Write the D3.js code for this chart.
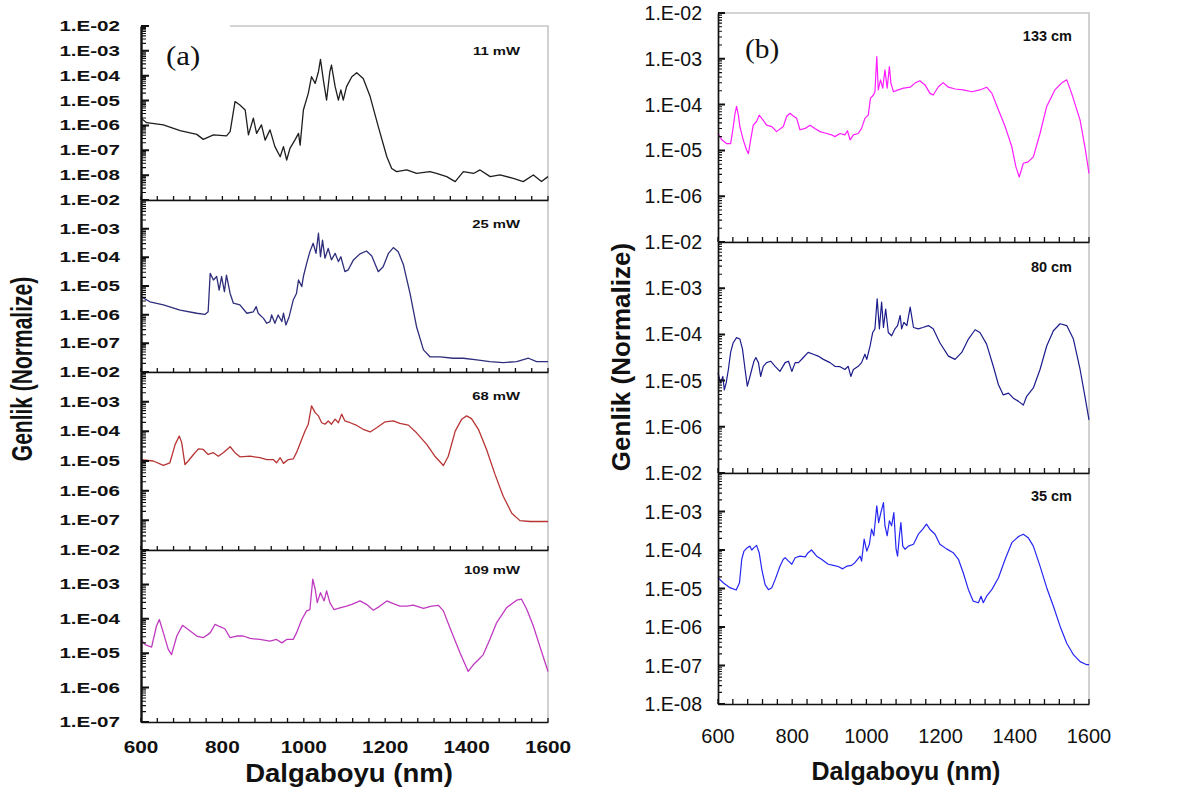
<!DOCTYPE html>
<html><head><meta charset="utf-8">
<script src="https://cdn.jsdelivr.net/npm/d3@7"></script>
<style>
body{margin:0;background:#fff}
svg{display:block}
text{font-family:Arial,"Liberation Sans",sans-serif;fill:#111}
</style>
</head><body>
<svg id="c" width="1182" height="794"></svg>
<script>
// ---------- DATA ----------
const xTickMarks = [600,640,680,720,760,800,840,880,920,960,1000,1040,1080,1120,1160,1200,1240,1280,1320,1360,1400,1440,1480,1520,1560,1600];
const xTickLabels = [600,800,1000,1200,1400,1600];
const labelsA = ["11 mW","25 mW","68 mW","109 mW"];
const labelsB = ["133 cm","80 cm","35 cm"];
const yTitle = "Genlik (Normalize)";
const xTitle = "Dalgaboyu (nm)";

// (a) 11 mW
const lamA1 = [600,614,655,696,737,753,778,810,819,831,843,856,864,876,884,896,905,917,929,942,950,958,966,978,987,991,999,1011,1019,1028,1036,1041,1048,1056,1064,1068,1077,1085,1091,1097,1105,1118,1130,1146,1163,1183,1204,1216,1228,1253,1277,1310,1326,1351,1372,1392,1417,1433,1458,1482,1515,1539,1564,1584,1600];
const ampA1 = [1.95e-6,1.29e-6,1.05e-6,6.17e-7,4.37e-7,2.75e-7,4.17e-7,3.80e-7,5.62e-7,9.12e-6,6.61e-6,4.17e-6,4.17e-7,1.95e-6,4.79e-7,1.05e-6,2.57e-7,6.61e-7,1.41e-7,5.50e-8,1.41e-7,4.07e-8,1.20e-7,2.57e-7,4.79e-7,1.62e-7,4.17e-6,1.95e-5,9.12e-5,4.90e-5,1.45e-4,4.57e-4,6.76e-5,1.05e-5,1.45e-4,2.69e-4,3.63e-5,1.05e-5,2.69e-5,1.05e-5,3.63e-5,9.12e-5,1.32e-4,7.76e-5,1.45e-5,8.91e-7,5.50e-8,1.86e-8,1.38e-8,1.62e-8,1.17e-8,1.38e-8,1.17e-8,8.71e-9,5.50e-9,1.38e-8,1.17e-8,1.62e-8,8.71e-9,1.02e-8,7.41e-9,5.50e-9,1.02e-8,5.50e-9,8.71e-9];
// (a) 25 mW
const lamA2 = [600,622,655,696,737,757,765,770,778,786,792,798,805,810,819,827,843,860,876,883,888,901,909,917,921,929,937,946,950,956,964,974,982,987,995,999,1007,1015,1023,1030,1036,1041,1046,1052,1060,1068,1077,1085,1091,1101,1109,1122,1138,1154,1167,1183,1195,1208,1220,1232,1245,1261,1277,1294,1310,1335,1367,1392,1425,1457,1490,1523,1552,1572,1600];
const ampA2 = [4.27e-6,2.82e-6,2.19e-6,1.45e-6,1.12e-6,1.02e-6,1.26e-6,2.75e-5,1.62e-5,2.14e-5,7.24e-6,2.14e-5,6.31e-6,2.40e-5,5.50e-6,2.51e-6,2.19e-6,1.12e-6,1.26e-6,1.91e-6,1.12e-6,7.41e-7,5.01e-7,5.75e-7,9.77e-7,5.01e-7,9.77e-7,5.75e-7,1.12e-6,4.37e-7,8.51e-7,3.24e-6,5.50e-6,1.62e-5,9.55e-6,2.14e-5,6.17e-5,1.58e-4,3.09e-4,1.38e-4,6.92e-4,1.05e-4,3.98e-4,9.33e-5,2.04e-4,8.13e-5,1.38e-4,7.08e-5,1.05e-4,3.16e-5,3.63e-5,8.13e-5,1.32e-4,1.66e-4,1.12e-4,3.16e-5,4.68e-5,1.38e-4,2.19e-4,1.58e-4,5.37e-5,5.50e-6,3.80e-7,5.89e-8,3.39e-8,3.39e-8,3.02e-8,3.02e-8,2.63e-8,2.29e-8,2.14e-8,2.29e-8,3.02e-8,2.29e-8,2.29e-8];
// (a) 68 mW
const lamA3 = [600,630,655,671,684,694,700,708,716,729,741,753,765,778,790,802,819,831,843,868,892,909,925,933,942,950,962,974,982,995,1003,1011,1019,1028,1036,1044,1052,1060,1068,1077,1085,1093,1101,1114,1130,1146,1163,1179,1200,1220,1236,1257,1277,1302,1322,1343,1355,1372,1388,1400,1412,1429,1449,1470,1490,1511,1531,1556,1600];
const ampA3 = [1.12e-5,1.00e-5,7.08e-6,8.71e-6,3.63e-5,6.92e-5,4.17e-5,7.59e-6,1.00e-5,1.66e-5,2.57e-5,2.45e-5,1.66e-5,1.91e-5,1.45e-5,1.91e-5,3.02e-5,1.91e-5,1.38e-5,1.45e-5,1.29e-5,1.12e-5,1.12e-5,8.71e-6,1.29e-5,8.32e-6,1.12e-5,1.17e-5,1.91e-5,5.37e-5,1.02e-4,1.74e-4,7.24e-4,4.27e-4,3.31e-4,1.95e-4,1.74e-4,2.24e-4,1.74e-4,2.57e-4,1.95e-4,3.80e-4,2.24e-4,1.95e-4,1.58e-4,1.17e-4,9.55e-5,1.32e-4,2.09e-4,2.24e-4,1.86e-4,1.62e-4,8.91e-5,3.63e-5,1.45e-5,7.08e-6,1.45e-5,1.02e-4,2.57e-4,3.31e-4,2.69e-4,1.17e-4,2.45e-5,3.47e-6,6.46e-7,1.74e-7,9.77e-8,9.12e-8,9.12e-8];
// (a) 109 mW
const lamA4 = [600,610,626,638,645,655,667,675,688,702,716,737,753,770,782,794,806,819,835,851,868,892,917,933,946,958,974,982,995,1007,1015,1022,1028,1033,1041,1050,1056,1064,1074,1089,1105,1118,1138,1154,1171,1187,1204,1220,1236,1253,1269,1294,1314,1331,1343,1359,1384,1404,1417,1429,1441,1457,1474,1498,1523,1535,1548,1564,1580,1600];
const ampA4 = [2.51e-5,1.78e-5,1.51e-5,6.17e-5,9.55e-5,3.89e-5,1.29e-5,9.12e-6,3.16e-5,6.46e-5,4.90e-5,3.16e-5,2.82e-5,3.89e-5,6.92e-5,5.89e-5,5.13e-5,2.82e-5,3.16e-5,3.16e-5,2.69e-5,2.51e-5,2.24e-5,2.51e-5,2.00e-5,2.51e-5,2.51e-5,3.89e-5,9.55e-5,1.70e-4,1.86e-4,1.41e-3,7.24e-4,2.95e-4,5.75e-4,3.31e-4,6.46e-4,2.95e-4,1.86e-4,2.09e-4,2.34e-4,2.63e-4,3.31e-4,2.63e-4,1.78e-4,2.34e-4,3.31e-4,2.75e-4,2.34e-4,2.34e-4,2.51e-4,2.00e-4,2.34e-4,2.45e-4,1.70e-4,5.50e-5,1.02e-5,2.95e-6,4.68e-6,6.46e-6,9.12e-6,2.51e-5,7.76e-5,2.09e-4,3.47e-4,3.72e-4,1.86e-4,6.17e-5,1.58e-5,2.95e-6];
// (b) 133 cm
const lamB1 = [600,610,623,634,640,646,650,655,659,668,677,682,688,695,704,711,718,731,745,758,776,785,794,803,812,821,835,848,861,875,893,906,915,929,942,949,956,965,978,987,996,1005,1011,1019,1023,1028,1032,1038,1044,1050,1056,1062,1066,1073,1082,1100,1118,1131,1144,1158,1171,1180,1194,1207,1221,1239,1261,1284,1306,1324,1338,1356,1374,1392,1403,1412,1423,1436,1450,1468,1486,1508,1526,1540,1553,1576,1589,1600];
const ampB1 = [2.34e-5,1.70e-5,1.41e-5,1.41e-5,2.82e-5,6.46e-5,9.12e-5,5.89e-5,3.31e-5,1.70e-5,1.02e-5,8.51e-6,1.70e-5,3.55e-5,4.27e-5,5.89e-5,5.01e-5,3.55e-5,3.31e-5,2.57e-5,3.31e-5,5.50e-5,6.46e-5,5.62e-5,5.01e-5,2.82e-5,3.02e-5,3.55e-5,3.02e-5,2.57e-5,2.34e-5,2.19e-5,2.00e-5,2.34e-5,2.19e-5,2.69e-5,1.70e-5,2.19e-5,2.34e-5,3.02e-5,5.01e-5,5.89e-5,1.38e-4,1.62e-4,1.91e-4,1.12e-3,2.09e-4,3.47e-4,2.29e-4,5.75e-4,2.29e-4,6.76e-4,2.95e-4,1.91e-4,2.04e-4,2.29e-4,2.40e-4,2.95e-4,3.31e-4,2.69e-4,1.78e-4,1.62e-4,2.45e-4,3.02e-4,2.40e-4,2.19e-4,2.09e-4,1.91e-4,2.09e-4,2.40e-4,1.78e-4,7.59e-5,3.31e-5,1.20e-5,4.37e-6,2.63e-6,5.25e-6,5.62e-6,7.24e-6,2.34e-5,9.12e-5,2.09e-4,2.95e-4,3.47e-4,1.78e-4,4.57e-5,1.20e-5,3.16e-6];
// (b) 80 cm
const lamB2 = [600,607,613,617,622,628,634,641,650,659,666,673,679,684,691,697,702,709,715,722,731,742,754,767,781,790,799,808,817,830,843,857,870,884,902,915,929,942,951,958,965,978,987,996,1001,1010,1017,1023,1029,1035,1041,1046,1052,1059,1068,1077,1084,1091,1095,1101,1109,1118,1127,1140,1152,1167,1180,1198,1221,1239,1257,1275,1293,1306,1324,1342,1356,1369,1383,1396,1410,1423,1432,1450,1468,1486,1504,1522,1540,1558,1576,1589,1600];
const ampB2 = [1.48e-5,8.91e-6,1.23e-5,6.31e-6,8.91e-6,1.74e-5,4.07e-5,6.61e-5,8.51e-5,7.94e-5,4.79e-5,1.74e-5,7.59e-6,1.05e-5,1.74e-5,2.63e-5,3.16e-5,2.45e-5,1.23e-5,2.04e-5,2.45e-5,2.63e-5,2.04e-5,1.58e-5,2.45e-5,2.63e-5,1.58e-5,2.45e-5,2.45e-5,3.16e-5,4.07e-5,3.72e-5,3.39e-5,2.88e-5,2.45e-5,2.04e-5,2.00e-5,1.74e-5,2.04e-5,1.23e-5,1.74e-5,2.04e-5,2.45e-5,3.72e-5,2.88e-5,5.62e-5,1.10e-4,1.32e-4,5.89e-4,1.32e-4,5.01e-4,1.41e-4,3.55e-4,1.10e-4,9.33e-5,1.32e-4,1.55e-4,2.57e-4,1.32e-4,1.82e-4,1.55e-4,3.89e-4,1.41e-4,1.32e-4,1.41e-4,1.55e-4,1.32e-4,6.61e-5,3.39e-5,2.88e-5,4.07e-5,7.94e-5,1.26e-4,1.10e-4,6.17e-5,2.04e-5,8.13e-6,4.90e-6,5.37e-6,4.17e-6,3.55e-6,2.95e-6,4.57e-6,6.92e-6,1.74e-5,5.62e-5,1.20e-4,1.70e-4,1.55e-4,7.94e-5,1.74e-5,4.57e-6,1.41e-6];
// (b) 35 cm
const lamB3 = [600,614,632,649,658,664,670,679,686,691,697,704,711,718,727,736,745,754,767,776,781,790,799,808,821,835,843,852,866,879,897,911,924,936,947,960,969,983,987,994,1001,1008,1014,1020,1028,1033,1039,1046,1050,1056,1062,1068,1074,1080,1084,1089,1093,1098,1104,1113,1127,1140,1152,1162,1171,1185,1198,1216,1234,1248,1261,1275,1288,1302,1309,1315,1324,1338,1356,1374,1392,1410,1423,1436,1450,1468,1486,1504,1522,1540,1558,1576,1594,1600];
const ampB3 = [1.91e-5,1.41e-5,1.05e-5,9.12e-6,1.41e-5,5.75e-5,9.33e-5,1.15e-4,1.26e-4,1.00e-4,1.15e-4,1.32e-4,8.51e-5,3.16e-5,1.26e-5,9.33e-6,1.05e-5,1.70e-5,3.80e-5,5.75e-5,6.31e-5,5.13e-5,4.27e-5,6.31e-5,6.92e-5,6.61e-5,8.51e-5,1.00e-4,6.92e-5,5.75e-5,4.27e-5,3.98e-5,3.72e-5,3.24e-5,3.80e-5,3.98e-5,4.68e-5,6.92e-5,5.13e-5,1.91e-4,9.33e-5,1.41e-4,3.47e-4,2.34e-4,1.41e-3,5.13e-4,9.33e-4,1.70e-3,4.27e-4,2.34e-4,5.75e-4,4.27e-4,9.33e-4,1.05e-4,6.92e-5,2.34e-4,5.13e-4,1.26e-4,1.05e-4,1.26e-4,1.41e-4,2.57e-4,3.47e-4,4.68e-4,3.47e-4,2.57e-4,1.41e-4,1.07e-4,8.51e-5,5.75e-5,2.57e-5,9.33e-6,4.68e-6,4.27e-6,6.31e-6,4.27e-6,6.31e-6,9.33e-6,1.91e-5,5.75e-5,1.55e-4,2.24e-4,2.57e-4,2.09e-4,1.26e-4,3.80e-5,1.05e-5,3.47e-6,1.05e-6,3.80e-7,1.91e-7,1.26e-7,1.05e-7,1.05e-7];

// ---------- LAYOUT ----------
const svg = d3.select("#c");
const frameLayer = svg.append("g");
const curveLayer = svg.append("g");
const axisLayer = svg.append("g");
const textLayer = svg.append("g");
const fmtExp = e => "1.E-" + String(-e).padStart(2, "0");

function stext(parent, x, y, str, o) {
  const t = parent.append("text")
    .attr("transform", `translate(${x},${y}) rotate(${o.rot||0}) scale(${o.sx||1},${o.sy||1})`)
    .attr("text-anchor", o.anchor || "start")
    .style("font-size", o.size + "px")
    .style("font-weight", o.bold ? "bold" : "normal")
    .text(str);
  if (o.dy) t.attr("dy", o.dy);
  if (o.family) t.style("font-family", o.family);
  return t;
}

// tick marks placed through the panel's scale (inward pointing)
function tickMarks(parent, vals, pos, fixed, len, width, vertical) {
  const path = vals.map(d => vertical
    ? `M${fixed},${pos(d)}h${len}`
    : `M${pos(d)},${fixed}v${-len}`).join("");
  parent.append("path").attr("d", path).attr("fill", "none")
    .attr("stroke", "#111").attr("stroke-width", width);
}

function drawPanel(p) {
  const x = d3.scaleLinear().domain([600, 1600]).range([p.x0, p.x1]);
  const y = d3.scaleLog().domain([Math.pow(10, p.loExp), 1e-2]).range([p.y1, p.y0]);

  frameLayer.append("path").attr("d", `M${p.x0},${p.y0}H${p.x1}V${p.y1}`)
    .attr("fill", "none").attr("stroke", "#c6c6c6").attr("stroke-width", 1.6);

  const pts = p.lam.map((l, i) => [l, p.amp[i]]);
  curveLayer.append("path").datum(pts)
    .attr("d", d3.line().x(d => x(d[0])).y(d => y(d[1])))
    .attr("fill", "none").attr("stroke", p.color).attr("stroke-width", p.lw)
    .attr("stroke-linejoin", "round");

  const xa = axisLayer.append("g").attr("transform", `translate(0,${p.y1})`)
    .call(d3.axisBottom(x).tickValues([]).tickSizeOuter(0));
  xa.select(".domain").attr("stroke", "#111").attr("stroke-width", 1.7);
  tickMarks(axisLayer, xTickMarks, x, p.y1, p.xt, 1.3, false);

  const majors = [], minors = [];
  for (let e = p.loExp; e <= -2; e++) {
    majors.push(Math.pow(10, e));
    if (e < -2) for (let k = 2; k <= 9; k++) minors.push(k * Math.pow(10, e));
  }
  const ya = axisLayer.append("g").attr("transform", `translate(${p.x0},0)`)
    .call(d3.axisLeft(y).tickValues([]).tickSizeOuter(0));
  ya.select(".domain").attr("stroke", "#111").attr("stroke-width", p.axisW);
  tickMarks(axisLayer, minors, y, p.x0, p.ytMinor, 1.1, true);
  tickMarks(axisLayer, majors, y, p.x0, p.ytMajor, 2, true);

  for (let e = -2; e >= p.loExp; e--) {
    if (e === p.loExp && !p.last) continue;
    stext(textLayer, p.x0 - p.ylPad, y(Math.pow(10, e)), fmtExp(e),
      { anchor: "end", size: p.ylSize, bold: p.ylBold, sx: p.ylSx, dy: "0.36em" });
  }
  stext(textLayer, p.labX, p.labY, p.label, { anchor: "end", size: p.labSize, bold: true, sx: p.labSx });
  if (p.last) {
    xTickLabels.forEach(v => stext(textLayer, x(v), p.xlY, String(v),
      { anchor: "middle", size: p.xlSize, bold: p.xlBold, sx: p.xlSx }));
  }
}

const colA = { x0: 141, x1: 548, xt: 4, ytMinor: 5, ytMajor: 8, axisW: 2.4, ylPad: 21, ylSize: 14, ylBold: true, ylSx: 1.47,
  labX: 520, labSize: 11, labSx: 1.35, xlY: 753, xlSize: 16, xlBold: true, xlSx: 1.3, lw: 1.3 };
const aPanels = [
  { y0: 26, y1: 200, loExp: -9, lam: lamA1, amp: ampA1, color: "#1e1e1e", label: labelsA[0], labY: 55 },
  { y0: 200, y1: 372, loExp: -8, lam: lamA2, amp: ampA2, color: "#2e2e7c", label: labelsA[1], labY: 228 },
  { y0: 372, y1: 550, loExp: -8, lam: lamA3, amp: ampA3, color: "#b83434", label: labelsA[2], labY: 400 },
  { y0: 550, y1: 722, loExp: -7, lam: lamA4, amp: ampA4, color: "#c03ac0", label: labelsA[3], labY: 574, last: true }
];
aPanels.forEach(p => drawPanel(Object.assign({}, colA, p)));

frameLayer.append("rect").attr("x", 143).attr("y", 18).attr("width", 87).attr("height", 16).attr("fill", "#fff");
stext(textLayer, 166, 65, "(a)", { size: 28, sx: 1.1, family: "'Liberation Serif','Times New Roman',serif" });

const colB = { x0: 718, x1: 1089, xt: 5, ytMinor: 4, ytMajor: 7, axisW: 1.7, ylPad: 16, ylSize: 19.5, ylBold: false, ylSx: 1,
  labX: 1072, labSize: 14.5, labSx: 1, xlY: 743, xlSize: 20, xlBold: false, xlSx: 1, lw: 1.2 };
const bPanels = [
  { y0: 13, y1: 242, loExp: -7, lam: lamB1, amp: ampB1, color: "#ff1cff", label: labelsB[0], labY: 41 },
  { y0: 242, y1: 473, loExp: -7, lam: lamB2, amp: ampB2, color: "#1c1c8c", label: labelsB[1], labY: 272 },
  { y0: 473, y1: 704, loExp: -8, lam: lamB3, amp: ampB3, color: "#2626f2", label: labelsB[2], labY: 501, last: true }
];
bPanels.forEach(p => drawPanel(Object.assign({}, colB, p)));
stext(textLayer, 745, 58, "(b)", { size: 28, sx: 1.05, family: "'Liberation Serif','Times New Roman',serif" });

stext(textLayer, 32, 369, yTitle, { anchor: "middle", size: 21, bold: true, rot: -90, sy: 1.4 });
stext(textLayer, 630, 357, yTitle, { anchor: "middle", size: 26, bold: true, rot: -90 });
stext(textLayer, 349, 782, xTitle, { anchor: "middle", size: 25, bold: true, sx: 1.1 });
stext(textLayer, 906, 780, xTitle, { anchor: "middle", size: 25, bold: true });
</script>
</body></html>
